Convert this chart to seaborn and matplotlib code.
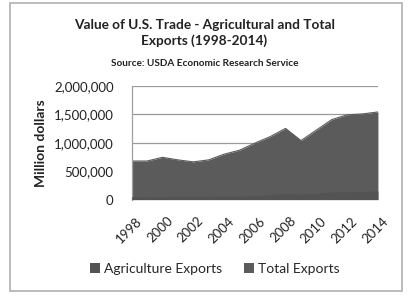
import matplotlib
matplotlib.use("Agg")
import matplotlib.pyplot as plt
import seaborn as sns
import numpy as np
import pandas as pd
from matplotlib.patches import Rectangle, Patch
from matplotlib.transforms import ScaledTranslation

years = [1998, 1999, 2000, 2001, 2002, 2003, 2004, 2005, 2006, 2007,
         2008, 2009, 2010, 2011, 2012, 2013, 2014]
total_exports = [680000, 680000, 745000, 700000, 665000, 700000, 800000, 870000,
                 995000, 1110000, 1255000, 1040000, 1225000, 1410000, 1495000,
                 1510000, 1545000]
ag_exports = [53700, 49100, 51300, 53700, 53100, 56000, 62400, 62500, 68600,
              89200, 114900, 96300, 108600, 136400, 135800, 140900, 152300]
y_ticks = [0, 500000, 1000000, 1500000, 2000000]
x_ticks = [1998, 2000, 2002, 2004, 2006, 2008, 2010, 2012, 2014]
title = "Value of U.S. Trade - Agricultural and Total\nExports (1998-2014)"
subtitle = "Source: USDA Economic Research Service"

sns.set_style("white")
plt.rcParams['font.family'] = ['Lato', 'DejaVu Sans']

df = pd.DataFrame({"Year": years, "Total": total_exports, "Ag": ag_exports})

fig = plt.figure(figsize=(4.09, 2.97), dpi=100)
ax = fig.add_axes([0.322, 0.328, 0.602, 0.382])

total_color = "#5b5b5b"
ag_color = "#535353"

ax.fill_between(df["Year"], 0, df["Total"], color=total_color, lw=0, zorder=2)
ax.fill_between(df["Year"], 0, df["Ag"], color=ag_color, lw=0, zorder=3)
sns.lineplot(data=df, x="Year", y="Total", ax=ax, color=total_color, lw=0.8, zorder=2)

ax.set_xlim(1998, 2014)
ax.set_ylim(0, 2000000)
ax.set_yticks(y_ticks)
ax.set_yticklabels([f"{v:,}" for v in y_ticks], fontsize=9.5, color="#222222")
ax.set_xticks(x_ticks)
ax.set_xticklabels([str(v) for v in x_ticks], rotation=45, ha="right",
                   rotation_mode="anchor", fontsize=9.5, color="#222222")
ax.tick_params(axis="y", length=0, pad=13)
ax.tick_params(axis="x", length=0, pad=11)
off = ScaledTranslation(4 / 100, 0, fig.dpi_scale_trans)
for lab in ax.get_xticklabels():
    lab.set_transform(lab.get_transform() + off)
ax.yaxis.grid(True, color="#9a9a9a", lw=0.9, zorder=1)
ax.set_axisbelow(True)
for s in ["top", "right", "bottom"]:
    ax.spines[s].set_visible(False)
ax.spines["left"].set_color("#a0a0a0")
ax.spines["left"].set_linewidth(0.9)
ax.set_xlabel("")
ax.set_ylabel("Million dollars", fontsize=10, fontweight="bold", color="#222222", labelpad=5)

fig.text(0.5, 0.935, title, ha="center", va="top", fontsize=9.8,
         fontweight="bold", color="#222222", linespacing=1.25)
fig.text(0.5, 0.785, subtitle, ha="center", va="center", fontsize=7.2,
         fontweight="bold", color="#222222")

handles = [Patch(facecolor=ag_color, edgecolor="none"),
           Patch(facecolor=total_color, edgecolor="none")]
fig.legend(handles, ["Agriculture Exports", "Total Exports"], loc="center",
           bbox_to_anchor=(0.525, 0.095), ncol=2, frameon=False, fontsize=10,
           handlelength=0.7, handleheight=0.7, handletextpad=0.3, columnspacing=1.6)

fig.patches.append(Rectangle((10 / 409, 1 - 291 / 297), 392 / 409, 288 / 297,
                             transform=fig.transFigure, fill=False,
                             edgecolor="#b0b0b0", lw=1.2))

fig.savefig("out.png", dpi=100, facecolor="white")
